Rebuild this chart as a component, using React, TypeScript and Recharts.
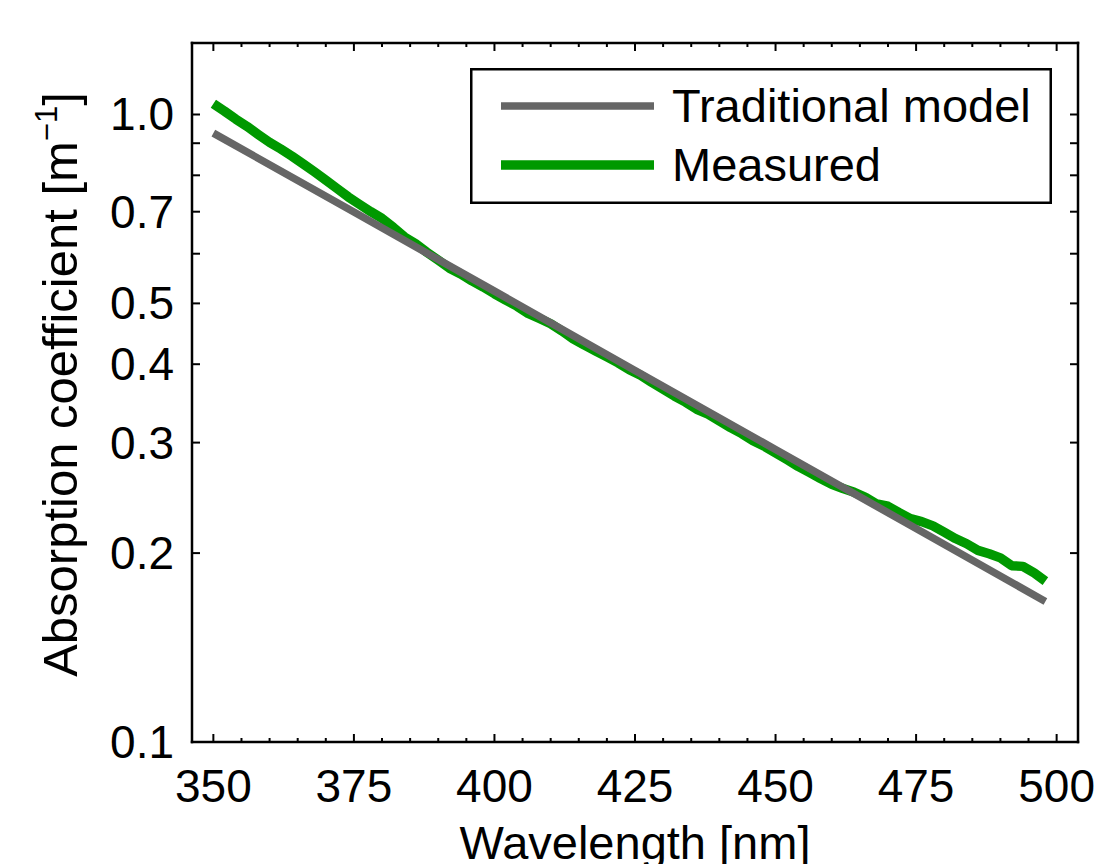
import React from 'react'
import { LineChart, Line, XAxis, YAxis, Legend } from 'recharts'

// wavelength [nm] and absorption coefficient [1/m]
const measuredWl = [
  350, 352, 354, 356, 358, 360, 362, 364, 366, 368, 370, 372, 374, 376, 378, 380, 382, 384, 386, 388,
  390, 392, 394, 396, 398, 400, 402, 404, 406, 408, 410, 412, 414, 416, 418, 420, 422, 424, 426, 428,
  430, 432, 434, 436, 438, 440, 442, 444, 446, 448, 450, 452, 454, 456, 458, 460, 462, 464, 466, 468,
  470, 472, 474, 476, 478, 480, 482, 484, 486, 488, 490, 492, 494, 496, 498,
]
const measuredA = [
  1.04, 1.012, 0.983, 0.957, 0.929, 0.903, 0.881, 0.858, 0.834, 0.81, 0.786, 0.762, 0.739, 0.719, 0.7, 0.683, 0.661, 0.638, 0.622, 0.603,
  0.586, 0.569, 0.557, 0.543, 0.531, 0.518, 0.506, 0.495, 0.482, 0.473, 0.464, 0.452, 0.439, 0.429, 0.42, 0.411, 0.402, 0.392, 0.384, 0.374,
  0.365, 0.356, 0.348, 0.339, 0.333, 0.325, 0.317, 0.31, 0.302, 0.296, 0.289, 0.282, 0.275, 0.269, 0.263, 0.2575, 0.2535, 0.25, 0.2455, 0.2395,
  0.2375, 0.232, 0.227, 0.2245, 0.221, 0.216, 0.211, 0.207, 0.202, 0.1995, 0.1965, 0.191, 0.1905, 0.186, 0.1805,
]

const modelWl = [350, 375, 400, 425, 450, 475, 498]
const modelA = [0.934, 0.699, 0.523, 0.391, 0.2925, 0.2189, 0.1675]

const xTicks = [
  350, 355, 360, 365, 370, 375, 380, 385, 390, 395, 400, 405, 410, 415, 420, 425, 430, 435, 440, 445,
  450, 455, 460, 465, 470, 475, 480, 485, 490, 495, 500,
]
const yTicks = [0.1, 0.2, 0.3, 0.4, 0.5, 0.6, 0.7, 0.8, 0.9, 1.0]
const yLabelled = [0.1, 0.2, 0.3, 0.4, 0.5, 0.7, 1.0]

const measured = measuredWl.map((wl, i) => ({ wl, a: measuredA[i] }))
const model = modelWl.map((wl, i) => ({ wl, a: modelA[i] }))

const legendOrder = ['Traditional model', 'Measured']
const widths: Record<string, number> = { 'Traditional model': 7.5, Measured: 9.5 }

const FONT = '"Liberation Sans", Arial, Helvetica, sans-serif'
const axisLine = { stroke: '#000', strokeWidth: 2.5, strokeLinecap: 'square' as const }

const BottomTick = ({ x, y, payload }: any) => {
  const major = payload.value % 25 === 0
  return (
    <g>
      <line x1={x} x2={x} y1={y} y2={y - (major ? 8 : 4)} stroke="#000" strokeWidth={2} />
      {major && (
        <text x={x} y={y + 60} textAnchor="middle" fontSize={46} fill="#000">
          {payload.value}
        </text>
      )}
    </g>
  )
}

const TopTick = ({ x, y, payload }: any) => {
  const major = payload.value % 25 === 0
  return <line x1={x} x2={x} y1={y} y2={y + (major ? 8 : 4)} stroke="#000" strokeWidth={2} />
}

const LeftTick = ({ x, y, payload }: any) => (
  <g>
    <line x1={x} x2={x + 8} y1={y} y2={y} stroke="#000" strokeWidth={2} />
    {yLabelled.includes(payload.value) && (
      <text x={x - 18} y={y + 16} textAnchor="end" fontSize={46} fill="#000">
        {payload.value.toFixed(1)}
      </text>
    )}
  </g>
)

const RightTick = ({ x, y }: any) => (
  <line x1={x} x2={x - 8} y1={y} y2={y} stroke="#000" strokeWidth={2} />
)

const renderLegend = ({ payload }: any) => {
  const items = legendOrder.map((n) => (payload || []).find((p: any) => p.value === n)).filter(Boolean)
  return (
    <svg width={582} height={136} style={{ display: 'block', fontFamily: FONT }}>
      <rect x={1.25} y={1.25} width={579.5} height={133.5} fill="#fff" stroke="#000" strokeWidth={2.5} />
      {items.map((it: any, i: number) => (
        <g key={it.value}>
          <line x1={31} x2={184} y1={38 + i * 59} y2={38 + i * 59} stroke={it.color} strokeWidth={widths[it.value]} />
          <text x={202} y={54 + i * 59} fontSize={47} fill="#000">
            {it.value}
          </text>
        </g>
      ))}
    </svg>
  )
}

export default function App() {
  return (
    <div style={{ position: 'absolute', left: 0, top: 0, background: '#fff' }}>
      <LineChart
        width={1094}
        height={864}
        margin={{ top: 42, right: 15, left: 0, bottom: 0 }}
        style={{ fontFamily: FONT }}
      >
        <XAxis
          dataKey="wl"
          type="number"
          domain={[346.2, 503.8]}
          allowDataOverflow
          ticks={xTicks}
          interval={0}
          height={122}
          tickSize={0}
          tickMargin={0}
          tickLine={false}
          axisLine={axisLine}
          tick={BottomTick}
          label={(p: any) => (
            <text x={p.viewBox.x + p.viewBox.width / 2} y={859} textAnchor="middle" fontSize={47} fill="#000">
              Wavelength [nm]
            </text>
          )}
        />
        <XAxis
          xAxisId="top"
          orientation="top"
          dataKey="wl"
          type="number"
          domain={[346.2, 503.8]}
          allowDataOverflow
          ticks={xTicks}
          interval={0}
          height={1}
          tickSize={0}
          tickMargin={0}
          tickLine={false}
          axisLine={axisLine}
          tick={TopTick}
        />
        <YAxis
          scale="log"
          type="number"
          domain={[0.1, 1.3]}
          allowDataOverflow
          ticks={yTicks}
          interval={0}
          width={192}
          tickSize={0}
          tickMargin={0}
          tickLine={false}
          axisLine={axisLine}
          tick={LeftTick}
          label={(p: any) => (
            <text transform={`translate(77, ${p.viewBox.y + p.viewBox.height / 2 - 8}) rotate(-90)`} textAnchor="middle" fontSize={49} fill="#000">
              Absorption coefficient [m
              <tspan fontSize={31} dy={-20}>−1</tspan>
              <tspan fontSize={49} dy={20}>]</tspan>
            </text>
          )}
        />
        <YAxis
          yAxisId="right"
          orientation="right"
          scale="log"
          type="number"
          domain={[0.1, 1.3]}
          allowDataOverflow
          ticks={yTicks}
          interval={0}
          width={1}
          tickSize={0}
          tickMargin={0}
          tickLine={false}
          axisLine={axisLine}
          tick={RightTick}
        />
        <Legend
          layout="vertical"
          align="center"
          verticalAlign="middle"
          content={renderLegend}
          wrapperStyle={{ top: 68, left: 470, width: 582, height: 136 }}
        />
        <Line
          data={measured}
          dataKey="a"
          name="Measured"
          stroke="#009900"
          strokeWidth={9.5}
          dot={false}
          activeDot={false}
          strokeLinejoin="round"
          isAnimationActive={false}
        />
        <Line
          xAxisId="top"
          yAxisId="right"
          data={model}
          dataKey="a"
          name="Traditional model"
          stroke="#666666"
          strokeWidth={7.5}
          dot={false}
          activeDot={false}
          isAnimationActive={false}
        />
      </LineChart>
    </div>
  )
}
